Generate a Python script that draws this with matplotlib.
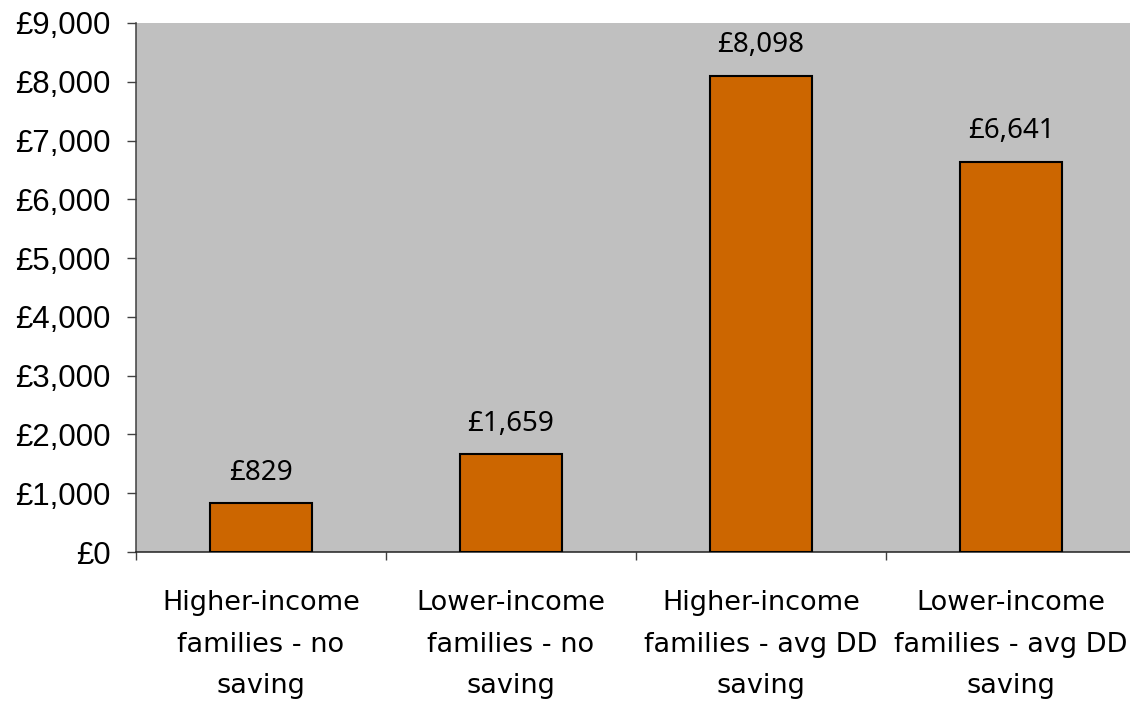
import numpy as np
import matplotlib.pyplot as plt
from matplotlib.ticker import FuncFormatter

categories = ["Higher-income\nfamilies - no\nsaving",
              "Lower-income\nfamilies - no\nsaving",
              "Higher-income\nfamilies - avg DD\nsaving",
              "Lower-income\nfamilies - avg DD\nsaving"]
values = [829, 1659, 8098, 6641]
yticks = [0, 1000, 2000, 3000, 4000, 5000, 6000, 7000, 8000, 9000]

fig = plt.figure(figsize=(11.3, 7.02), dpi=100)
ax = fig.add_axes([136 / 1130, 150 / 702, 1000 / 1130, 529 / 702])
ax.set_facecolor('#c0c0c0')

x = np.arange(len(values))
ax.bar(x, values, width=0.41, color='#cc6600', edgecolor='black', linewidth=1.5, zorder=3)

for xi, v in zip(x, values):
    ax.annotate('£{:,}'.format(v), (xi, v), xytext=(0, 17), textcoords='offset points',
                ha='center', va='baseline', fontsize=20, family='Noto Sans')

ax.set_xlim(-0.5, len(values) - 0.5)
ax.set_ylim(0, 9000)
ax.set_yticks(yticks)
ax.yaxis.set_major_formatter(FuncFormatter(lambda v, p: '£{:,.0f}'.format(v)))
ax.tick_params(axis='y', length=6.5, width=1, color='#404040', pad=12,
               labelsize=22.5, labelfontfamily='Liberation Sans')

ax.set_xticks(x)
ax.set_xticklabels(categories, fontsize=19.5, family='DejaVu Sans', linespacing=1.78)
ax.set_xticks(np.arange(len(values) + 1) - 0.5, minor=True)
ax.tick_params(axis='x', which='major', length=0, pad=27.5)
ax.tick_params(axis='x', which='minor', length=6, width=1, color='#404040')

for s in ['top', 'right']:
    ax.spines[s].set_visible(False)
ax.spines['left'].set_color('#404040')
ax.spines['bottom'].set_color('#202020')
ax.spines['left'].set_linewidth(1.1)
ax.spines['bottom'].set_linewidth(1.1)

fig.savefig('out.png', dpi=100)
